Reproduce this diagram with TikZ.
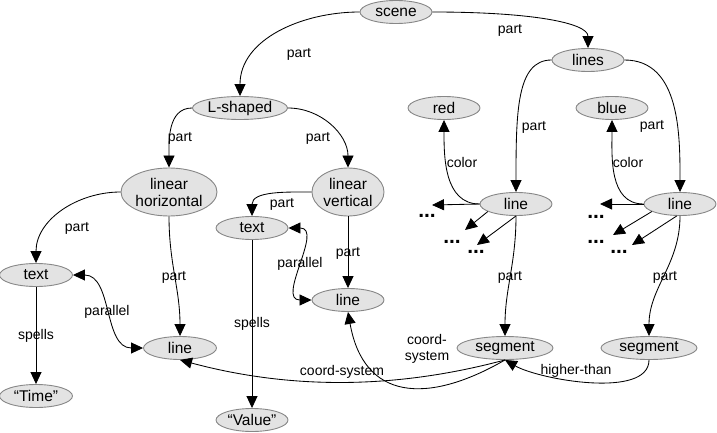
\documentclass[tikz,border=0pt]{standalone}
\usepackage{fontspec}
\setmainfont{Liberation Sans}
\usepackage{tikz}
\usetikzlibrary{arrows.meta, shapes.geometric}
\definecolor{nodefill}{RGB}{227,227,227}
\definecolor{nodeborder}{RGB}{135,135,135}

\begin{document}
\begin{tikzpicture}[x=1pt, y=1pt,
    >={Triangle[length=12pt, width=11pt]},
    concept/.style={ellipse, draw=nodeborder, fill=nodefill, line width=0.9pt, inner sep=0pt,
      minimum width=72pt, minimum height=23pt, align=center, font=\fontsize{15.5}{17}\selectfont},
    lbl/.style={font=\fontsize{14}{16}\selectfont, inner sep=0pt, align=center},
    dots/.style={font=\fontsize{21}{21}\selectfont\bfseries, inner sep=0pt},
    arrow/.style={->, line width=0.85pt},
    dblarrow/.style={<->, line width=0.85pt}
  ]
    \useasboundingbox (0,0) rectangle (717,-433);

    % Top of the tree
    \node[concept] (scene) at (396,-12) {scene};
    \node[concept, minimum width=95pt] (lshaped) at (240,-108) {L-shaped};
    \node[concept] (lines) at (588,-60) {lines};

    % Left branch
    \node[concept, minimum width=96pt, minimum height=48pt] (linhor) at (169,-192) {linear\\horizontal};
    \node[concept, minimum height=48pt] (linver) at (348,-192) {linear\\vertical};
    \node[concept, minimum width=73pt] (textleft) at (36,-275) {text};
    \node[concept, minimum width=73pt] (lineleft) at (180,-348) {line};
    \node[concept, minimum width=73pt] (time) at (36,-396) {“Time”};
    \node[concept] (textmid) at (252,-228) {text};
    \node[concept] (linemid) at (348,-300) {line};
    \node[concept] (value) at (252,-420) {“Value”};

    % Right branch
    \node[concept] (red) at (444,-108) {red};
    \node[concept] (blue) at (612,-108) {blue};
    \node[concept] (line1) at (516,-204) {line};
    \node[concept] (line2) at (680,-204) {line};
    \node[concept, minimum width=96pt] (seg1) at (505,-348) {segment};
    \node[concept, minimum width=96pt] (seg2) at (649,-348) {segment};

    % Unnamed rest
    \node[dots] (dotsa1) at (427,-216) {...};
    \node[dots] (dotsa2) at (452,-242) {...};
    \node[dots] (dotsa3) at (476,-252) {...};
    \node[dots] (dotsb1) at (596,-217) {...};
    \node[dots] (dotsb2) at (596,-242) {...};
    \node[dots] (dotsb3) at (619,-252) {...};
    \coordinate (tipa1) at (432,-205);
    \coordinate (tipa2) at (465,-230);
    \coordinate (tipa3) at (477,-245);
    \coordinate (tipb1) at (600,-204);
    \coordinate (tipb2) at (613,-235);
    \coordinate (tipb3) at (632,-245);

    % Arrows
    \draw[arrow] (scene.west) to[out=180, in=90] (lshaped.north);
    \draw[arrow] (scene.east) to[out=0, in=90, out distance=100pt, in distance=25pt] (lines.north);
    \draw[arrow] (lshaped.west) to[out=180, in=90] (linhor.north);
    \draw[arrow] (lshaped.east) to[out=0, in=90] (linver.north);
    \draw[arrow] (lines.west) to[out=180, in=90, out distance=35pt, in distance=80pt] (line1.north);
    \draw[arrow] (lines.east) to[out=0, in=90] (line2.north);
    \draw[arrow] (line1.west) to[out=180, in=-90] (red.south);
    \draw[arrow] (line2.west) to[out=180, in=-90] (blue.south);
    \draw[arrow] (linhor.west) to[out=180, in=90] (textleft.north);
    \draw[arrow] (linhor.south) to[out=-90, in=90] (lineleft.north);
    \draw[arrow] (linver.west) to[out=180, in=90] (textmid.north);
    \draw[arrow] (linver.south) -- (linemid.north);
    \draw[dblarrow] (textleft.east) to[out=0, in=180] (lineleft.west);
    \draw[dblarrow] (textmid.east) to[out=0, in=180, looseness=1.2] (linemid.west);
    \draw[arrow] (textleft.south) -- (time.north);
    \draw[arrow] (textmid.south) -- (value.north);
    \draw[arrow] (line1.south) to[out=-90, in=90] (seg1.north);
    \draw[arrow] (line2.south) to[out=-90, in=90] (seg2.north);
    \draw[arrow] (seg1.south) to[out=195, in=-15, looseness=0.9] (lineleft.south);
    \draw[arrow] (seg1.south) to[out=210, in=-80, looseness=1.4] (linemid.south);
    \draw[arrow] (seg2.south) to[out=-90, in=-30, looseness=0.7] (seg1.south);
    \draw[arrow] (line1.west) -- (tipa1);
    \draw[arrow] (line1.195) -- (tipa2);
    \draw[arrow] (line1.south) -- (tipa3);
    \draw[arrow] (line2.west) -- (tipb1);
    \draw[arrow] (line2.195) -- (tipb2);
    \draw[arrow] (line2.255) -- (tipb3);

    % Edge labels
    \node[lbl] (lpart1) at (299,-54) {part};
    \node[lbl] (lpart2) at (510,-30) {part};
    \node[lbl] (lpart3) at (180,-138) {part};
    \node[lbl] (lpart4) at (318,-138) {part};
    \node[lbl] (lpart5) at (534,-127) {part};
    \node[lbl] (lpart6) at (652,-126) {part};
    \node[lbl] (lcolor1) at (462,-162) {color};
    \node[lbl] (lcolor2) at (628,-162) {color};
    \node[lbl] (lpart9) at (77,-228) {part};
    \node[lbl] (lpart10) at (174,-277) {part};
    \node[lbl] (lpart11) at (282,-204) {part};
    \node[lbl] (lpart12) at (348,-253) {part};
    \node[lbl] (lpar1) at (107,-312) {parallel};
    \node[lbl] (lpar2) at (300,-264) {parallel};
    \node[lbl] (lspells1) at (36,-336) {spells};
    \node[lbl] (lspells2) at (252,-324) {spells};
    \node[lbl] (lpart17) at (510,-277) {part};
    \node[lbl] (lpart18) at (665,-277) {part};
    \node[lbl] (lcoord1) at (342,-372) {coord-system};
    \node[lbl] (lcoord2) at (427,-349) {coord-\\system};
    \node[lbl] (lhigher) at (576,-371) {higher-than};

\end{tikzpicture}
\end{document}
